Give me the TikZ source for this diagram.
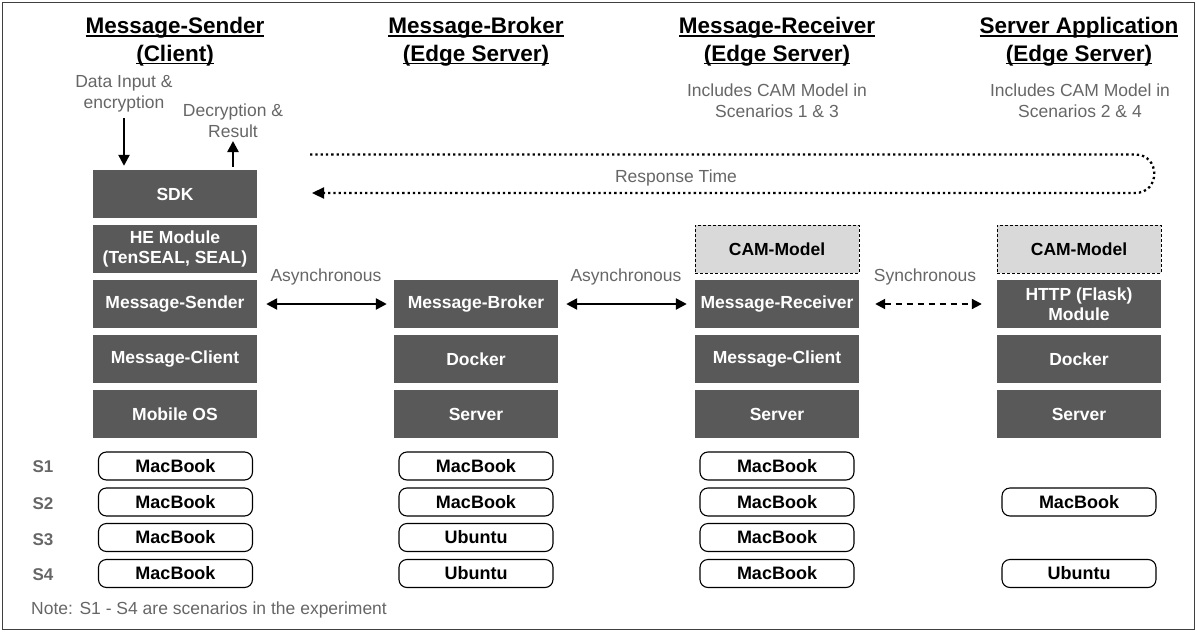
\documentclass[tikz,border=0pt]{standalone}
\usepackage{fontspec}
\setmainfont{Liberation Sans}
\usetikzlibrary{arrows.meta}
\definecolor{boxgray}{HTML}{595959}
\definecolor{txtgray}{HTML}{666666}
\definecolor{camgray}{HTML}{D9D9D9}
\definecolor{framegray}{HTML}{404040}
\newcommand{\myul}[1]{\setbox0=\hbox{#1}\rlap{\rule[-3pt]{\wd0}{1.5pt}}\box0}
\begin{document}
\begin{tikzpicture}[x=1pt,y=-1pt,
  layer/.style={rectangle, fill=boxgray, text=white, font=\fontsize{17.5}{19.5}\selectfont\bfseries,
    minimum width=164pt, minimum height=48pt, inner sep=0pt, align=center},
  cam/.style={layer, fill=camgray, text=black, draw=black, line width=1pt, dash pattern=on 3pt off 2pt},
  hw/.style={rectangle, rounded corners=8pt, draw=black, line width=1.1pt, minimum width=154pt,
    minimum height=28pt, inner sep=0pt, font=\fontsize{18}{20}\selectfont\bfseries},
  hdr/.style={anchor=base, inner sep=0pt, font=\fontsize{22.5}{26}\selectfont\bfseries},
  gtext/.style={anchor=base, inner sep=0pt, text=txtgray, font=\fontsize{17.5}{20}\selectfont},
  slabel/.style={inner sep=0pt, text=txtgray, font=\fontsize{17}{20}\selectfont\bfseries},
  solidarrow/.style={line width=2.4pt, -{Triangle[length=11pt,width=11pt]}},
  bothsolid/.style={line width=2.4pt, {Triangle[length=11pt,width=11pt]}-{Triangle[length=11pt,width=11pt]}},
  syncarrow/.style={line width=2pt, dash pattern=on 6pt off 5pt, {Triangle[length=10pt,width=10pt]}-{Triangle[length=10pt,width=10pt]}},
  rtline/.style={line width=2.3pt, dash pattern=on 2.3pt off 3pt, -{Triangle[length=12pt,width=11pt]}}
]
\useasboundingbox (0,0) rectangle (1197,632);
\draw[framegray, line width=1.5pt] (2.5,2.5) rectangle (1194.5,629.5);

% headers
\node[hdr] (h1a) at (175,33.5) {\myul{Message-Sender}};
\node[hdr] (h1b) at (175,61) {\myul{(Client)}};
\node[hdr] (h2a) at (476,33.5) {\myul{Message-Broker}};
\node[hdr] (h2b) at (476,61) {\myul{(Edge Server)}};
\node[hdr] (h3a) at (777,33.5) {\myul{Message-Receiver}};
\node[hdr] (h3b) at (777,61) {\myul{(Edge Server)}};
\node[hdr] (h4a) at (1079,33.5) {\myul{Server Application}};
\node[hdr] (h4b) at (1079,61) {\myul{(Edge Server)}};

% gray annotations
\node[gtext] (in1) at (124,87.3) {Data Input \&};
\node[gtext] (in2) at (124,108.5) {encryption};
\node[gtext] (out1) at (233,116) {Decryption \&};
\node[gtext] (out2) at (233,137.3) {Result};
\node[gtext] (inc3a) at (777,96.7) {Includes CAM Model in};
\node[gtext] (inc3b) at (777,117.5) {Scenarios 1 \& 3};
\node[gtext] (inc4a) at (1080,96.7) {Includes CAM Model in};
\node[gtext] (inc4b) at (1080,117.5) {Scenarios 2 \& 4};
\node[gtext] (rt) at (676,182.7) {Response Time};
\node[gtext] (as1) at (326,281) {Asynchronous};
\node[gtext] (as2) at (626,281) {Asynchronous};
\node[gtext] (sy) at (925,281) {Synchronous};

% column 1
\node[layer] (sdk) at (175,194) {SDK};
\node[layer] (he) at (175,249) {HE Module\\(TenSEAL, SEAL)};
\node[layer] (snd) at (175,304) {Message-Sender};
\node[layer] (mc1) at (175,359) {Message-Client};
\node[layer] (mos) at (175,414) {Mobile OS};
% column 2
\node[layer] (brk) at (476,304) {Message-Broker};
\node[layer] (dk2) at (476,359) {Docker};
\node[layer] (sv2) at (476,414) {Server};
% column 3
\node[cam] (cam3) at (777,249) {CAM-Model};
\node[layer] (rcv) at (777,304) {Message-Receiver};
\node[layer] (mc3) at (777,359) {Message-Client};
\node[layer] (sv3) at (777,414) {Server};
% column 4
\node[cam] (cam4) at (1079,249) {CAM-Model};
\node[layer] (http) at (1079,304) {HTTP (Flask)\\Module};
\node[layer] (dk4) at (1079,359) {Docker};
\node[layer] (sv4) at (1079,414) {Server};

% input / output arrows
\coordinate (inTop) at (124,118);
\coordinate (outTop) at (233,141);
\draw[solidarrow, shorten >=4pt] (inTop) -- (inTop |- sdk.north);
\draw[solidarrow, shorten <=3pt] (outTop |- sdk.north) -- (outTop);

% response time loop
\coordinate (rtA) at (310,154.5);
\coordinate (rtB) at (1135,154.5);
\coordinate (rtC) at (1135,193);
\coordinate (rtD) at (312,193);
\draw[rtline] (rtA) -- (rtB) .. controls (1160.7,154.5) and (1160.7,193) .. (rtC) -- (rtD);

% communication arrows
\draw[bothsolid] ([xshift=9pt]snd.east) -- ([xshift=-7pt]brk.west);
\draw[bothsolid] ([xshift=8pt]brk.east) -- ([xshift=-8pt]rcv.west);
\draw[syncarrow] ([xshift=16pt]rcv.east) -- ([xshift=-15pt]http.west);

% scenario labels
\node[slabel] (s1) at (43,467) {S1};
\node[slabel] (s2) at (43,503.5) {S2};
\node[slabel] (s3) at (43,540) {S3};
\node[slabel] (s4) at (43,574.5) {S4};

% hardware boxes
\node[hw] (a1) at (175.5,466) {MacBook};
\node[hw] (a2) at (175.5,502) {MacBook};
\node[hw] (a3) at (175.5,537.5) {MacBook};
\node[hw] (a4) at (175.5,573.5) {MacBook};
\node[hw] (b1) at (476,466) {MacBook};
\node[hw] (b2) at (476,502) {MacBook};
\node[hw] (b3) at (476,537.5) {Ubuntu};
\node[hw] (b4) at (476,573.5) {Ubuntu};
\node[hw] (c1) at (777,466) {MacBook};
\node[hw] (c2) at (777,502) {MacBook};
\node[hw] (c3) at (777,537.5) {MacBook};
\node[hw] (c4) at (777,573.5) {MacBook};
\node[hw] (d2) at (1079,502) {MacBook};
\node[hw] (d4) at (1079,573.5) {Ubuntu};

% note
\node[gtext, anchor=base west] (nt) at (31,614) {Note: S1 - S4 are scenarios in the experiment};
\end{tikzpicture}
\end{document}
